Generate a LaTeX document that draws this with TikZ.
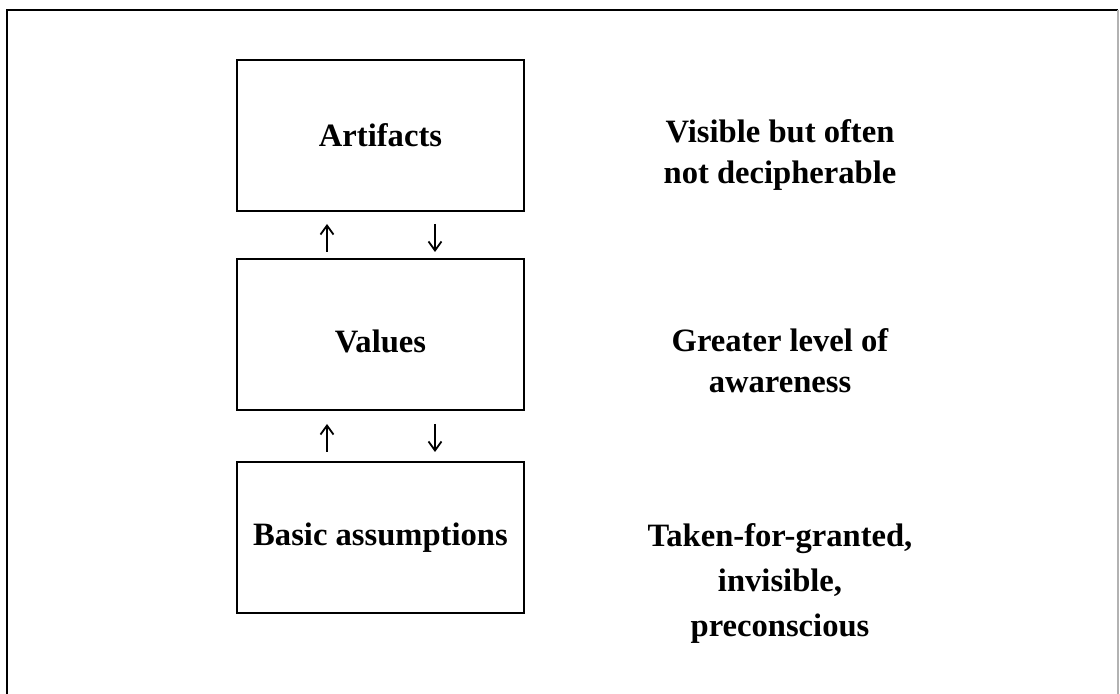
\documentclass[tikz,border=0pt]{standalone}
\usepackage{fontspec}
\setmainfont{Liberation Serif}
\usetikzlibrary{arrows.meta,positioning}

\begin{document}
\begin{tikzpicture}[x=0.5pt, y=-0.5pt,
        level/.style={draw, solid, rectangle, line width=1pt, minimum width=143.5pt, minimum height=75.5pt, font=\fontsize{16.3}{20}\selectfont\bfseries},
        note/.style={align=center, anchor=base, font=\fontsize{16.3}{20.5}\selectfont\bfseries},
        link/.style={line width=0.9pt, -{Straight Barb[length=4.5pt, width=6.5pt, line width=0.9pt]}}]

        \useasboundingbox (0,0) rectangle (1120,694);
        \clip (0,0) rectangle (1120,694);

        % Frame
        \draw[line width=1.2pt] (7,720) -- (7,10) -- (1118,10);
        \draw[line width=0.6pt, black!30] (1118,10) -- (1118,720);

        % Level nodes
        \node (artifacts) [level] at (380.5,135.5) {Artifacts};
        \node (values) [level, text height=18.5pt, text depth=0pt] at (380.5,334.5) {Values};
        \node (assumptions) [level] at (380.5,537.5) {Basic assumptions};

        % Text Nodes (without boxes)
        \node (visible) [note] at (780,184) {Visible but often\\not decipherable};
        \node (awareness) [note] at (780,393) {Greater level of\\awareness};
        \node (takenforgranted) [note, font=\fontsize{16.3}{22.5}\selectfont\bfseries] at (780,637) {Taken-for-granted,\\invisible,\\preconscious};

        % Arrows
        \draw[link, shorten <=3pt, shorten >=6pt] ([xshift=-26.75pt]values.north) -- ([xshift=-26.75pt]artifacts.south);
        \draw[link, shorten <=6pt, shorten >=3pt] ([xshift=27.25pt]artifacts.south) -- ([xshift=27.25pt]values.north);
        \draw[link, shorten <=4.5pt, shorten >=6.5pt] ([xshift=-26.75pt]assumptions.north) -- ([xshift=-26.75pt]values.south);
        \draw[link, shorten <=6.5pt, shorten >=4.5pt] ([xshift=27.25pt]values.south) -- ([xshift=27.25pt]assumptions.north);

\end{tikzpicture}
\end{document}
